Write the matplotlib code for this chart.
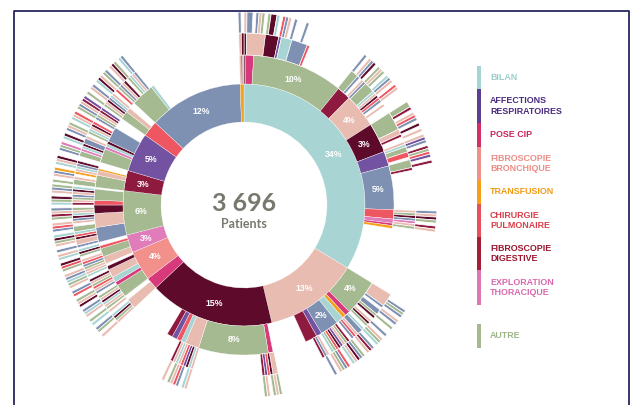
import numpy as np
import matplotlib
matplotlib.use('Agg')
import matplotlib.pyplot as plt
from matplotlib.lines import Line2D
from matplotlib.patches import Rectangle
from itertools import groupby

W, H = 637, 405

# ---------------- data ----------------
COLORS = {
    'T': '#a8d5d3',  # bilan (teal)
    'L': '#e9bcb1',  # light pink
    'M': '#5e0b2b',  # maroon
    'P': '#d8397a',  # pose CIP
    'S': '#f2908b',  # salmon
    'K': '#e07cba',  # exploration thoracique
    'G': '#a6ba92',  # autre (green)
    'D': '#8e1a3f',  # dark red
    'U': '#7352a1',  # affections respiratoires (purple)
    'R': '#ee5662',  # chirurgie pulmonaire (red)
    'B': '#7f91b3',  # blue-grey
    'O': '#f4a11d',  # transfusion (orange)
}

# ring 1 (first stay), % of patients, clockwise from 12 o'clock
RING1_CODES = ['T', 'L', 'M', 'P', 'S', 'K', 'G', 'D', 'U', 'R', 'B', 'O']
RING1_PCT = [33.7, 12.6, 16.7, 1.6, 4.0, 2.4, 5.9, 2.7, 5.2, 2.1, 12.6, 0.5]
RING1_LABELS = ['34%', '13%', '15%', '', '4%', '3%', '6%', '3%', '5%', '', '12%', '']

# ring 2 (second stay): children of each ring-1 segment, (pct, code, label); '.' = no further stay
RING2 = [
    [(0.2, 'M'), (0.85, 'P'), (9.8, 'G', '10%'), (1.5, 'D'), (3.65, 'L', '4%'), (3.2, 'M', '3%'),
     (1.6, 'U'), (4.7, 'B', '5%'), (1.0, 'R'), (0.45, 'K'), (0.25, 'P'), (0.3, 'O'), (6.2, '.')],
    [(3.9, 'G', '4%'), (0.55, 'P'), (0.4, 'O'), (0.8, 'T'), (2.0, 'B', '2%'), (0.6, 'U'), (1.3, 'D'), (3.05, '.')],
    [(0.6, '.'), (0.5, 'P'), (7.5, 'G', '8%'), (1.5, 'L'), (0.5, 'T'), (0.5, 'R'), (0.55, 'U'), (0.6, 'D'), (4.45, '.')],
    [(1.1, 'L'), (0.5, '.')],
    [(1.4, 'G'), (0.4, 'P'), (0.6, 'T'), (0.9, 'L'), (0.4, 'M'), (0.3, '.')],
    [(0.8, 'L'), (0.9, 'G'), (0.3, 'R'), (0.4, '.')],
    [(1.6, 'B'), (1.5, 'L'), (0.9, 'M'), (0.5, 'R'), (1.2, 'G'), (0.2, '.')],
    [(1.3, 'G'), (0.5, 'L'), (0.2, 'O'), (0.7, '.')],
    [(1.5, 'G'), (0.3, 'K'), (0.3, 'T'), (0.3, 'M'), (1.6, 'B'), (1.2, '.')],
    [(0.9, 'G'), (0.5, 'L'), (0.7, '.')],
    [(2.5, 'G'), (0.3, 'T'), (9.8, '.')],
    [(0.2, 'L'), (0.15, 'M'), (0.15, 'L')],
]

# rings 3 and 4 (third / fourth stay): thin strips, each character = UNIT % of patients
UNIT = 0.25
RING3 = [
    "MLLLLLLLMMMMMUTTTTBBBBBBR" + "." * 18 + "GGG" + "B.LB" + "GGGG" + "TLMRB" + ".L." + ".."
    + "GGGGGGG" + "LL" + "D" + ".." + "LTGGRR." + "GGGD" + "." * 15 + "LGMBKLG",
    "LLLLLB.BBGM." + "LMG.TBBLRB.DGLUMRGT.L" + "BD",
    ".." + "LLMRUD" + "." * 26 + "LTMURL" + "TL" + "D",
    "LGMT.L",
    "GLTMLG.BLRGLM.TL",
    "LGBRL.GMT",
    "BLLMRTGG.LBMTLG.DLGBLMT",
    "GGL.OLTBM.",
    "GGKTMBBL.GTLMR.BGLDU",
    "GLMBTL.R",
    "GBLM.GTLB",
    "LM",
]
RING4 = [
    "LBB.BLG.GMMT.RBL.B." + "..B..." + "." * 18 + "B.LBM.G" + "LG.TBL.RL" + "....."
    + "GGD.LRB.M.L." + "LUB.DGR" + "U.D." + "." * 15 + "BLMG.DL",
    "..BGB.LB.G.." + "B.LGT.BDL.GBMLT.RBGL." + "B.",
    ".." + "GLG.LG" + "." * 26 + "LT.BRL" + "G." + "L",
    "L.GB.T",
    "G.LTB.MLG.RB.LGT",
    "BL.GRM.TL",
    "B.LGMT.BRL.GDLB.TGM.LBG",
    "G.LBO.TLM.",
    "BGK.TM.BLG.TLR.GBLDU",
    "G.LB.TML",
    "GB.LMG.TB",
    "B.",
]

TOTAL = "3 696"
TOTAL_SUB = "Patients"

LEGEND_LABELS = ['BILAN', 'AFFECTIONS\nRESPIRATOIRES', 'POSE CIP', 'FIBROSCOPIE\nBRONCHIQUE',
                 'TRANSFUSION', 'CHIRURGIE\nPULMONAIRE', 'FIBROSCOPIE\nDIGESTIVE',
                 'EXPLORATION\nTHORACIQUE', 'AUTRE']
LEGEND_BAR_COLORS = ['#a6d4d2', '#5d3f8f', '#d22e6a', '#f0908a', '#f5a01a', '#e8505b',
                     '#a51d36', '#de76b4', '#a5b991']
LEGEND_TEXT_COLORS = ['#9ccfcc', '#4b2c7e', '#c9245f', '#ee8d86', '#f29b16', '#d93f4a',
                      '#9c1631', '#d96aad', '#9db489']

# ---------------- layout ----------------
CX, CY, RMAX = 244, 205, 200
R0, R1, R2, R3, R4 = 83, 121, 150, 172, 193

fig = plt.figure(figsize=(W / 100, H / 100), dpi=100)
fig.patch.set_facecolor('white')
ax = fig.add_axes([(CX - RMAX) / W, (H - CY - RMAX) / H, 2 * RMAX / W, 2 * RMAX / H],
                  projection='polar')
ax.set_theta_zero_location('N')
ax.set_theta_direction(-1)
ax.set_ylim(0, RMAX)
ax.set_axis_off()


def rad(p):
    return np.asarray(p, dtype=float) / 100.0 * 2 * np.pi


LABEL_FONT = dict(color='white', fontsize=6.3, fontweight='bold', family='Liberation Sans',
                  ha='center', va='center')

# ring 1
parent_start = np.concatenate([[0.0], np.cumsum(RING1_PCT)[:-1]])
ax.bar(rad(parent_start), R1 - R0, width=rad(RING1_PCT), bottom=R0, align='edge',
       color=[COLORS[c] for c in RING1_CODES], edgecolor='white', linewidth=0.2)
for s, p, lab in zip(parent_start, RING1_PCT, RING1_LABELS):
    if lab:
        ax.text(rad(s + p / 2), 103, lab, **LABEL_FONT)

# ring 2
for i, children in enumerate(RING2):
    pos = parent_start[i]
    for ch in children:
        p, code = ch[0], ch[1]
        if code != '.':
            ax.bar(rad(pos), R2 - R1, width=rad(p), bottom=R1, align='edge',
                   color=COLORS[code], edgecolor='white', linewidth=0.25)
            if len(ch) > 2:
                ax.text(rad(pos + p / 2), 135, ch[2], **LABEL_FONT)
        pos += p


# rings 3 and 4
def draw_strips(ring, r_in, r_out, lw):
    for i, s in enumerate(ring):
        k = 0
        for code, grp in groupby(s):
            n = len(list(grp))
            if code != '.':
                ax.bar(rad(parent_start[i] + k * UNIT), r_out - r_in, width=rad(n * UNIT),
                       bottom=r_in, align='edge', color=COLORS[code],
                       edgecolor='white', linewidth=lw)
            k += n


draw_strips(RING3, R2, R3, 0.45)
draw_strips(RING4, R3, R4, 0.55)

# centre text
fig.text(CX / W, 1 - 203.5 / H, TOTAL, ha='center', va='center', fontsize=18,
         fontweight='bold', family='Lato', color='#78786f')
fig.text(CX / W, 1 - 224 / H, TOTAL_SUB, ha='center', va='center', fontsize=9,
         fontweight='bold', family='Lato', color='#78786f')

# legend
bar_edges = [66, 89, 123, 147, 180, 204, 237, 270, 305]
bar_ranges = [(bar_edges[j], bar_edges[j + 1]) for j in range(len(bar_edges) - 1)] + [(324, 348)]
for (y0, y1), lab, bc, tc in zip(bar_ranges, LEGEND_LABELS, LEGEND_BAR_COLORS, LEGEND_TEXT_COLORS):
    fig.add_artist(Rectangle((477 / W, 1 - y1 / H), 4 / W, (y1 - y0) / H,
                             transform=fig.transFigure, facecolor=bc, edgecolor='none'))
    fig.text(490 / W, 1 - (y0 + y1) / 2 / H, lab, ha='left', va='center', fontsize=6.4,
             fontweight='bold', family='Liberation Sans', color=tc, linespacing=1.25)

# frame
fig.add_artist(Line2D([13.5 / W, 13.5 / W, 629 / W, 629 / W],
                      [-0.05, 1 - 10.5 / H, 1 - 10.5 / H, -0.05],
                      transform=fig.transFigure, color='#26265f', linewidth=1.3))

fig.savefig('out.png', dpi=100, facecolor='white')
